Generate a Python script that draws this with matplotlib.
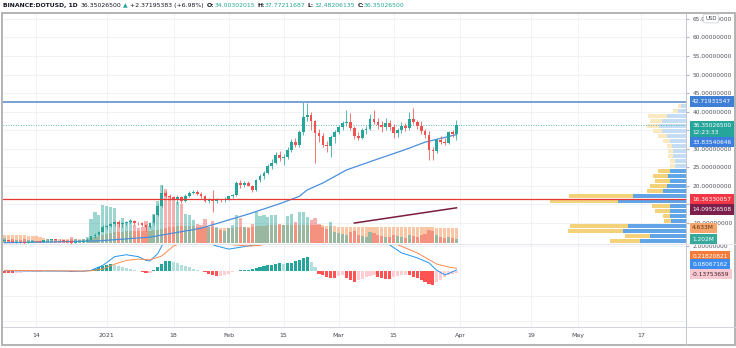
#!/usr/bin/env python3
"""DOT/USD daily: candles, volume + volume MA, visible-range volume profile, MACD."""
import numpy as np
import pandas as pd
import matplotlib
matplotlib.use('Agg')
import matplotlib.pyplot as plt
import matplotlib.dates as mdates
import matplotlib.transforms as mtransforms
from matplotlib.patches import Rectangle
from matplotlib.lines import Line2D

plt.rcParams['font.family'] = ['DejaVu Sans']

# ---------- data ----------
DATES = pd.date_range('2020-12-06', '2021-03-31', freq='D')

OPEN = [5.20, 5.35, 5.15, 4.85, 4.95, 4.80, 4.65, 4.90, 5.15, 5.05,
        5.00, 5.30, 5.50, 5.60, 5.50, 5.40, 5.10, 5.05, 4.60, 4.90,
        5.00, 5.25, 5.55, 6.40, 6.90, 7.70, 8.90, 9.20, 9.80, 10.20,
        9.70, 9.90, 10.30, 10.60, 10.10, 10.00, 9.60, 8.90, 9.90, 12.10,
        14.60, 18.10, 17.40, 16.90, 16.60, 17.00, 15.90, 17.40, 18.20, 18.40,
        17.90, 17.30, 15.90, 16.40, 16.00, 16.30, 16.10, 16.50, 17.20, 17.60,
        20.70, 20.20, 20.70, 20.10, 18.90, 21.60, 22.70, 23.50, 25.50, 26.30,
        28.40, 27.40, 27.90, 29.80, 31.90, 31.00, 34.60, 38.70, 39.20, 37.40,
        34.20, 33.40, 31.00, 30.70, 33.10, 34.60, 35.80, 36.90, 37.10, 35.50,
        33.40, 33.00, 35.00, 35.30, 38.00, 37.20, 36.40, 35.80, 36.90, 35.80,
        34.20, 35.00, 36.10, 35.50, 38.00, 37.20, 36.10, 34.70, 33.60, 29.70,
        29.30, 32.40, 31.90, 31.60, 34.40, 34.00302015]
HIGH = [5.48, 5.42, 5.22, 5.05, 5.02, 4.86, 4.96, 5.26, 5.22, 5.16,
        5.42, 5.78, 5.70, 5.76, 5.60, 5.50, 5.22, 5.12, 4.96, 5.10,
        5.36, 5.92, 6.60, 7.20, 7.90, 9.40, 9.60, 10.10, 10.60, 10.80,
        10.20, 10.50, 11.00, 10.90, 10.40, 10.20, 9.80, 10.20, 12.40, 15.00,
        20.20, 18.70, 17.90, 17.40, 17.60, 17.30, 17.80, 18.60, 18.90, 18.80,
        18.30, 17.50, 16.80, 18.90, 16.70, 16.60, 16.90, 17.40, 17.90, 21.20,
        21.60, 21.20, 21.40, 20.30, 22.00, 23.20, 24.10, 25.90, 27.20, 29.10,
        29.40, 28.60, 30.40, 32.60, 32.80, 35.20, 42.60, 42.40, 39.90, 37.90,
        35.40, 34.20, 32.10, 33.60, 35.00, 36.40, 37.50, 40.50, 39.70, 36.20,
        34.50, 35.60, 36.20, 39.40, 40.50, 38.40, 37.40, 38.20, 37.80, 36.60,
        35.60, 37.20, 37.00, 39.90, 41.00, 37.90, 37.40, 35.30, 34.80, 30.60,
        32.80, 33.40, 32.80, 34.90, 35.20, 37.77211687]
LOW = [5.10, 5.08, 4.76, 4.58, 4.70, 4.45, 4.60, 4.85, 4.96, 4.90,
       4.90, 5.20, 5.30, 5.40, 5.25, 5.00, 4.85, 4.42, 4.55, 4.80,
       4.95, 5.15, 5.50, 6.10, 6.70, 7.50, 8.40, 8.80, 9.30, 8.90,
       9.00, 9.50, 9.90, 9.60, 9.60, 9.20, 7.80, 8.60, 9.60, 11.80,
       14.20, 16.90, 16.20, 16.10, 15.10, 15.40, 15.60, 16.90, 17.70, 17.50,
       16.80, 15.60, 15.50, 13.00, 15.50, 15.70, 15.80, 16.20, 16.80, 17.40,
       19.50, 19.80, 19.90, 18.30, 18.60, 21.00, 22.00, 23.10, 24.60, 25.80,
       26.80, 25.70, 27.30, 29.20, 30.40, 30.60, 33.80, 37.60, 35.20, 26.20,
       31.80, 30.40, 29.20, 27.80, 31.60, 33.90, 35.10, 36.10, 35.00, 32.60,
       32.30, 32.70, 34.10, 35.00, 36.60, 35.40, 34.60, 35.10, 35.20, 32.80,
       33.20, 34.30, 34.80, 35.20, 36.80, 35.30, 34.00, 33.00, 27.10, 27.00,
       29.00, 31.20, 30.90, 31.20, 33.10, 32.48206135]
CLOSE = [5.35, 5.15, 4.85, 4.95, 4.80, 4.65, 4.90, 5.15, 5.05, 5.00,
         5.30, 5.50, 5.60, 5.50, 5.40, 5.10, 5.05, 4.60, 4.90, 5.00,
         5.25, 5.55, 6.40, 6.90, 7.70, 8.90, 9.20, 9.80, 10.20, 9.70,
         9.90, 10.30, 10.60, 10.10, 10.00, 9.60, 8.90, 9.90, 12.10, 14.60,
         18.10, 17.40, 16.90, 16.60, 17.00, 15.90, 17.40, 18.20, 18.40, 17.90,
         17.30, 15.90, 16.40, 16.00, 16.30, 16.10, 16.50, 17.20, 17.60, 20.70,
         20.20, 20.70, 20.10, 18.90, 21.60, 22.70, 23.50, 25.50, 26.30, 28.40,
         27.40, 27.90, 29.80, 31.90, 31.00, 34.60, 38.70, 39.20, 37.40, 34.20,
         33.40, 31.00, 30.70, 33.10, 34.60, 35.80, 36.90, 37.10, 35.50, 33.40,
         33.00, 35.00, 35.30, 38.00, 37.20, 36.40, 35.80, 36.90, 35.80, 34.20,
         35.00, 36.10, 35.50, 38.00, 37.20, 36.10, 34.70, 33.60, 29.70, 29.30,
         32.40, 31.90, 31.60, 34.40, 33.98, 36.35026500]

# volume, millions
VOLUME = [1.4, 1.0, 1.2, 0.9, 0.8, 1.1, 0.8, 0.9, 0.7, 0.7,
          1.0, 1.3, 0.9, 0.8, 0.7, 1.0, 0.9, 1.8, 1.2, 0.8,
          1.1, 2.0, 7.4, 9.5, 8.6, 11.7, 11.4, 11.0, 10.7, 6.2,
          7.7, 6.5, 7.0, 5.5, 4.6, 5.0, 6.8, 5.2, 9.0, 13.0,
          17.8, 16.5, 14.5, 13.5, 12.5, 12.0, 9.0, 8.5, 7.0, 6.0,
          5.5, 7.5, 5.0, 6.8, 5.0, 4.0, 3.8, 4.5, 5.5, 8.6,
          7.7, 4.9, 4.6, 6.0, 9.5, 8.2, 8.6, 8.0, 8.5, 8.6,
          6.0, 5.5, 8.2, 8.8, 6.5, 9.5, 9.7, 8.0, 7.0, 7.6,
          6.0, 5.0, 4.2, 6.5, 3.5, 3.2, 2.8, 2.5, 3.5, 3.8,
          2.6, 2.2, 2.0, 3.4, 3.0, 2.4, 2.2, 1.8, 2.0, 2.6,
          2.2, 1.8, 1.6, 2.4, 2.2, 2.0, 2.6, 2.8, 4.0, 3.6,
          2.4, 1.8, 1.5, 1.9, 1.6, 1.202]
VOLUME_MA = [2.6, 2.6, 2.5, 2.5, 2.4, 2.4, 2.3, 2.3, 2.2, 2.0,
             1.4, 1.3, 1.3, 1.2, 1.2, 1.1, 1.1, 1.2, 1.2, 1.1,
             1.1, 1.2, 1.5, 1.8, 2.1, 2.5, 2.8, 3.1, 3.3, 3.4,
             3.5, 3.6, 3.7, 3.7, 3.7, 3.8, 3.8, 3.8, 3.9, 4.1,
             4.4, 4.6, 4.8, 5.0, 5.1, 5.2, 5.2, 5.2, 5.1, 5.0,
             4.9, 4.9, 4.8, 4.8, 4.7, 4.6, 4.6, 4.6, 4.7, 4.8,
             4.8, 4.9, 4.9, 5.0, 5.1, 5.2, 5.3, 5.4, 5.4, 5.5,
             5.5, 5.5, 5.6, 5.6, 5.6, 5.7, 5.7, 5.7, 5.6, 5.6,
             5.5, 5.4, 5.3, 5.2, 5.1, 5.0, 5.0, 4.9, 4.9, 4.9,
             4.9, 4.9, 4.9, 4.9, 4.9, 4.9, 4.9, 4.9, 4.9, 4.9,
             4.9, 4.9, 4.8, 4.8, 4.8, 4.8, 4.8, 4.8, 4.8, 4.8,
             4.7, 4.7, 4.7, 4.7, 4.65, 4.633]

MACD_HIST = [-0.12, -0.14, -0.15, -0.14, -0.12, -0.10, -0.08, -0.06, -0.05, -0.04,
             -0.03, -0.02, -0.01, 0.0, -0.01, -0.02, -0.03, -0.05, -0.04, -0.03,
             -0.02, 0.0, 0.08, 0.18, 0.30, 0.42, 0.52, 0.56, 0.50, 0.42,
             0.34, 0.26, 0.18, 0.10, 0.04, -0.06, -0.16, -0.12, 0.10, 0.32,
             0.58, 0.78, 0.82, 0.72, 0.62, 0.50, 0.40, 0.30, 0.20, 0.10,
             0.03, -0.10, -0.22, -0.32, -0.40, -0.38, -0.30, -0.20, -0.10, 0.04,
             0.08, 0.10, 0.12, 0.14, 0.22, 0.30, 0.38, 0.45, 0.52, 0.60,
             0.66, 0.56, 0.62, 0.68, 0.80, 0.92, 1.05, 1.15, 0.75, 0.30,
             -0.20, -0.35, -0.45, -0.55, -0.58, -0.40, -0.30, -0.55, -0.75, -0.85,
             -0.70, -0.60, -0.50, -0.40, -0.32, -0.45, -0.55, -0.60, -0.62, -0.45,
             -0.38, -0.32, -0.30, -0.35, -0.45, -0.58, -0.70, -0.85, -1.00, -1.10,
             -0.90, -0.70, -0.50, -0.35, -0.22, -0.13753659]

MACD_DATES = ['2020-12-06', '2020-12-26', '2020-12-28', '2020-12-31', '2021-01-03',
              '2021-01-06', '2021-01-09', '2021-01-11', '2021-01-12', '2021-01-14',
              '2021-01-16', '2021-01-19', '2021-01-25', '2021-01-29', '2021-02-01',
              '2021-02-04', '2021-02-08', '2021-02-11', '2021-02-16', '2021-02-21',
              '2021-02-26', '2021-03-04', '2021-03-10', '2021-03-13', '2021-03-17',
              '2021-03-21', '2021-03-24', '2021-03-26', '2021-03-28', '2021-03-29',
              '2021-03-31']
MACD_LINE = [0.02, -0.02, 0.05, 0.45, 1.15,
             1.30, 1.15, 0.85, 0.80, 1.40,
             2.60, 3.20, 2.40, 2.00, 1.75,
             1.90, 2.10, 2.50, 3.60, 5.20,
             4.60, 3.60, 3.00, 2.30, 1.45,
             1.05, 0.65, 0.05, -0.30, -0.20,
             0.08067162]
SIGNAL_DATES = ['2020-12-06', '2020-12-26', '2020-12-28', '2020-12-31', '2021-01-03',
                '2021-01-06', '2021-01-09', '2021-01-12', '2021-01-15', '2021-01-18',
                '2021-01-21', '2021-01-25', '2021-01-30', '2021-02-02', '2021-02-06',
                '2021-02-09', '2021-02-11', '2021-02-19', '2021-02-26', '2021-03-06',
                '2021-03-15', '2021-03-21', '2021-03-26', '2021-03-29', '2021-03-31']
SIGNAL_LINE = [0.05, 0.0, 0.02, 0.15, 0.55,
               0.85, 0.95, 0.90, 1.20, 2.00,
               2.35, 2.35, 2.20, 2.10, 2.00,
               2.05, 2.20, 3.50, 4.40, 4.00,
               2.24, 1.45, 0.55, 0.32, 0.21820821]

# 50-day moving average of the close
MA_DATES = ['2020-12-06', '2020-12-20', '2020-12-30', '2021-01-12', '2021-01-25',
            '2021-02-06', '2021-02-14', '2021-02-19', '2021-02-21', '2021-02-25',
            '2021-03-03', '2021-03-10', '2021-03-18', '2021-03-23', '2021-03-31']
MA_VALUES = [4.70, 4.95, 5.20, 6.20, 8.60,
             12.40, 15.20, 17.20, 18.90, 20.80,
             24.30, 26.90, 29.80, 31.80, 33.83540646]

# visible-range volume profile: row bottoms, up / down volume per row
PROFILE_ROW = [4.50, 5.85, 7.20, 8.55, 9.90, 11.25, 12.60, 13.95, 15.30, 16.65,
               18.00, 19.35, 20.70, 22.05, 23.40, 24.75, 26.10, 27.45, 28.80, 30.15,
               31.50, 32.85, 34.20, 35.55, 36.90, 38.25, 39.60, 40.95]
PROFILE_UP = [46, 36, 63, 58, 15, 16, 16, 16, 68, 53,
              23, 19, 16, 18, 16, 11, 11, 13, 13, 14,
              16, 19, 24, 27, 24, 19, 8, 5]
PROFILE_DOWN = [30, 25, 55, 58, 7, 7, 15, 18, 68, 64,
                16, 17, 15, 15, 12, 5, 5, 5, 5, 5,
                7, 9, 9, 12, 12, 19, 5, 3]
VALUE_AREA_ROWS = 15          # rows below this index are in the value area

RESISTANCE = 42.71931547
SUPPORT = 16.36330057
TREND_DATES = ['2021-03-05', '2021-03-31']
TREND_VALUES = [10.0, 14.09526508]

TICK_DATES = ['2020-12-14', '2021-01-01', '2021-01-18', '2021-02-01', '2021-02-15',
              '2021-03-01', '2021-03-15', '2021-04-01', '2021-04-19', '2021-05-01',
              '2021-05-17']
TICK_LABELS = ['14', '2021', '18', 'Feb', '15', 'Mar', '15', 'Apr', '19', 'May', '17']
PRICE_TICKS = [10, 15, 20, 25, 30, 35, 40, 45, 50, 55, 60, 65]
HIDDEN_TICKS = [35]           # sits under the last-price tag

UP_C, DN_C = '#26a69a', '#ef5350'
GRID_C = '#eef0f4'
LABEL_FS = 4.2

# ---------- layout ----------
W, H = 736, 348
fig = plt.figure(figsize=(W / 100, H / 100), dpi=100)
fig.patch.set_facecolor('white')


def rect(x0, y0, x1, y1):
    return [x0 / W, 1 - y1 / H, (x1 - x0) / W, (y1 - y0) / H]


def dnum(ds):
    return mdates.date2num(pd.to_datetime(ds).to_pydatetime())


xs = dnum(DATES)
x_lo, x_hi = xs[0] - 0.4, xs[0] + 173.4
p_lo, p_hi = 4.35, 66.6

axg = fig.add_axes(rect(3, 13, 686, 244))   # grid underneath
axv = fig.add_axes(rect(3, 13, 686, 244))   # volume
axp = fig.add_axes(rect(3, 13, 686, 244))   # volume profile
ax = fig.add_axes(rect(3, 13, 686, 244))    # price
axm = fig.add_axes(rect(3, 244, 686, 327))  # MACD

for a in (axg, axv, axp, ax, axm):
    a.set_facecolor('none')
    for s in a.spines.values():
        s.set_visible(False)
    a.tick_params(length=0, labelsize=LABEL_FS, colors='#50535e')

for a in (axg, ax, axv, axm):
    a.set_xlim(x_lo, x_hi)
axg.set_ylim(p_lo, p_hi)
ax.set_ylim(p_lo, p_hi)
axv.set_ylim(-0.3, 70.8)
axm.set_ylim(-4.48, 2.16)

# grid
tick_x = dnum(TICK_DATES)
for tx in tick_x:
    axg.axvline(tx, color=GRID_C, lw=0.6, zorder=0)
    axm.axvline(tx, color=GRID_C, lw=0.6, zorder=0)
for py in PRICE_TICKS:
    axg.axhline(py, color=GRID_C, lw=0.6, zorder=0)
for my in (2.0, -2.0, -4.0):
    axm.axhline(my, color=GRID_C, lw=0.6, zorder=0)
for a in (axg, axv, axp):
    a.set_xticks([])
    a.set_yticks([])

# ---------- volume ----------
up = np.array(CLOSE) >= np.array(OPEN)
axv.bar(xs, VOLUME_MA, width=0.8, color='#f6a06b', alpha=0.6, zorder=1)
axv.bar(xs, VOLUME, width=0.8, color=np.where(up, UP_C, DN_C), alpha=0.45, zorder=2)

# ---------- volume profile ----------
axp.set_ylim(p_lo, p_hi)
axp.set_xlim(683, 0)
rows = np.arange(len(PROFILE_ROW))
blue = np.where(rows < VALUE_AREA_ROWS, '#62a5e6', '#c4dcf4')
yellow = np.where(rows < VALUE_AREA_ROWS, '#f4d27c', '#fbeac1')
axp.barh(PROFILE_ROW, PROFILE_UP, height=1.12, left=0, align='edge', color=blue, lw=0)
axp.barh(PROFILE_ROW, PROFILE_DOWN, height=1.12, left=PROFILE_UP, align='edge',
         color=yellow, lw=0)

# ---------- price ----------
colors = np.where(up, UP_C, DN_C)
ax.vlines(xs, LOW, HIGH, colors=colors, lw=0.55, zorder=3)
body_lo = np.minimum(OPEN, CLOSE)
body_h = np.maximum(np.abs(np.array(CLOSE) - np.array(OPEN)), 0.08)
ax.bar(xs, body_h, bottom=body_lo, width=0.7, color=colors, lw=0, zorder=4)

ax.plot(dnum(MA_DATES), MA_VALUES, color='#4a8fdc', lw=0.9, zorder=2)
ax.axhline(RESISTANCE, color='#6d9bd1', lw=1.3, zorder=5)
ax.axhline(SUPPORT, color='#e53935', lw=0.9, zorder=5)
ax.axhline(CLOSE[-1], color=UP_C, lw=0.6, ls=(0, (1, 2)), zorder=1)
ax.plot(dnum(TREND_DATES), TREND_VALUES, color='#7a1d3c', lw=1.1, zorder=5)

ax.yaxis.tick_right()
ax.set_yticks(PRICE_TICKS)
ax.set_yticklabels(['' if v in HIDDEN_TICKS else f'{v:.8f}' for v in PRICE_TICKS])
ax.tick_params(axis='y', length=2, pad=3, color='#b2b5be')
ax.set_xticks([])

# ---------- MACD ----------
hist = np.array(MACD_HIST)
prev = np.concatenate([[hist[0]], hist[:-1]])
hcol = np.where(hist >= 0,
                np.where(hist >= prev, '#26a69a', '#b2dfdb'),
                np.where(hist <= prev, '#ff5252', '#ffcdd2'))
axm.bar(xs, hist, width=0.8, color=hcol, lw=0, zorder=2)
axm.plot(dnum(MACD_DATES), MACD_LINE, color='#2196f3', lw=0.7, zorder=3)
axm.plot(dnum(SIGNAL_DATES), SIGNAL_LINE, color='#ff8a50', lw=0.7, zorder=3)
axm.yaxis.tick_right()
axm.set_yticks([2.0])
axm.set_yticklabels(['2.00000000'])
axm.tick_params(axis='y', length=2, pad=3, color='#b2b5be')

axm.set_xticks(tick_x)
axm.set_xticklabels(TICK_LABELS)
axm.tick_params(axis='x', length=0, pad=4.5, labelsize=4.5, colors='#434651')


# ---------- axis tags ----------
def tag(a, y, text, bg, fg='white', transform=None):
    tr = mtransforms.blended_transform_factory(a.transAxes, transform or a.transData)
    a.text(1.009, y, text, transform=tr, fontsize=LABEL_FS, color=fg, ha='left',
           va='center', zorder=20, clip_on=False, linespacing=1.5,
           bbox=dict(boxstyle='square,pad=0.45', fc=bg, ec='none'))


tag(ax, RESISTANCE, '42.71931547', '#3f7fd6')
tag(ax, CLOSE[-1] - 1.05, '36.35026500\n12:23:33', '#26a69a')
tag(ax, MA_VALUES[-1] - 2.0, '33.83540646', '#3b7ee0')
tag(ax, SUPPORT, '16.36330057', '#f23645')
tag(ax, TREND_VALUES[-1] - 0.45, '14.09526508', '#7b1f4b')
tag(ax, VOLUME_MA[-1], '4.633M', '#f6a56c', fg='#5a3415', transform=axv.transData)
tag(ax, VOLUME[-1], '1.202M', '#36a99a', transform=axv.transData)
tag(axm, 1.2, '0.21820821', '#f47b3a')
tag(axm, 0.56, '0.08067162', '#3b8ef0')
tag(axm, -0.24, '-0.13753659', '#f9c9d2', fg='#40232a')

# currency badge on the price scale
fig.text(711 / W, 1 - 18.5 / H, 'USD', fontsize=3.9, color='#434651', ha='center',
         va='center', bbox=dict(boxstyle='round,pad=0.35', fc='white', ec='#c9ccd3', lw=0.5))

# ---------- frame and separators ----------
fig.add_artist(Rectangle((2 / W, 1 - 345 / H), 733 / W, 332 / H, transform=fig.transFigure,
                         fill=False, ec='#a7a7a7', lw=1.2))
fig.add_artist(Line2D([686 / W, 686 / W], [1 - 345 / H, 1 - 13 / H],
                      transform=fig.transFigure, color='#c3c6ce', lw=0.7))
fig.add_artist(Line2D([3 / W, 735 / W], [1 - 244 / H, 1 - 244 / H],
                      transform=fig.transFigure, color='#e3e5ea', lw=0.7))
fig.add_artist(Line2D([3 / W, 735 / W], [1 - 327 / H, 1 - 327 / H],
                      transform=fig.transFigure, color='#d1d4dc', lw=0.7))

# ---------- header ----------
renderer = fig.canvas.get_renderer()
parts = [('BINANCE:DOTUSD, 1D', '#131722', 'bold', 3),
         ('36.35026500', '#131722', 'normal', 2),
         ('\u25b2', '#26a69a', 'normal', 2),
         ('+2.37195383 (+6.98%)', '#131722', 'normal', 3),
         ('O:', '#131722', 'bold', 0), ('34.00302015', '#26a69a', 'normal', 2.5),
         ('H:', '#131722', 'bold', 0), ('37.77211687', '#26a69a', 'normal', 2.5),
         ('L:', '#131722', 'bold', 0), ('32.48206135', '#26a69a', 'normal', 2.5),
         ('C:', '#131722', 'bold', 0), ('36.35026500', '#26a69a', 'normal', 0)]
hx = 3
for s, c, wgt, gap in parts:
    t = fig.text(hx / W, 1 - 5.5 / H, s, fontsize=4.4, color=c, fontweight=wgt,
                 ha='left', va='center')
    hx = t.get_window_extent(renderer).x1 + gap

fig.savefig('out.png', dpi=100, facecolor='white')
